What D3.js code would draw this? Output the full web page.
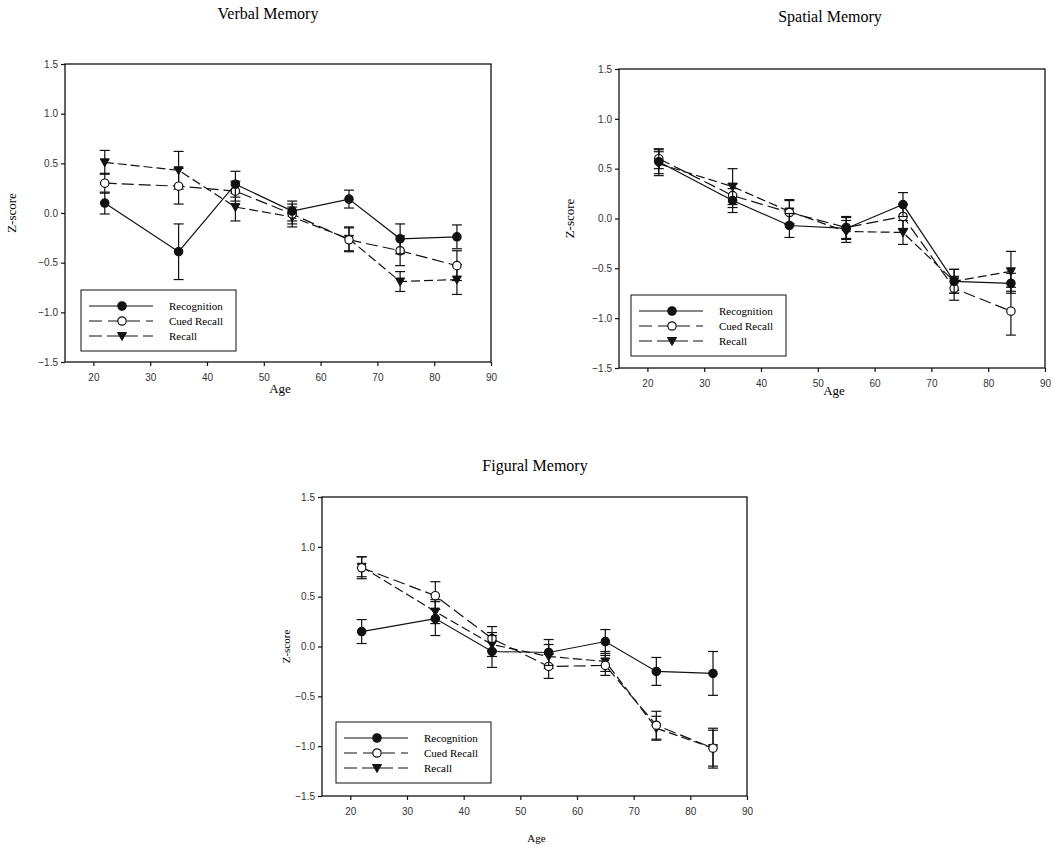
<!DOCTYPE html>
<html>
<head>
<meta charset="utf-8">
<script src="https://cdn.jsdelivr.net/npm/d3@7"></script>
<style>
	body { margin: 0; background: #fff; }
	svg { display: block; }
</style>
</head>
<body>
<div id="chart"></div>
<script>
// ages of the seven groups
var ages = [22, 35, 45, 55, 65, 74, 84];
var seriesNames = ["Recognition", "Cued Recall", "Recall"];
var yTicks = [-1.5, -1.0, -0.5, 0.0, 0.5, 1.0, 1.5];
var xTicks = [20, 30, 40, 50, 60, 70, 80, 90];

// Verbal memory
var verbalRecognition = [0.10, -0.39, 0.29, 0.02, 0.14, -0.26, -0.24];
var verbalRecognitionErr = [0.11, 0.28, 0.13, 0.10, 0.09, 0.15, 0.12];
var verbalCued = [0.30, 0.27, 0.22, -0.01, -0.27, -0.38, -0.53];
var verbalCuedErr = [0.10, 0.18, 0.10, 0.10, 0.12, 0.15, 0.15];
var verbalRecall = [0.51, 0.43, 0.06, -0.04, -0.26, -0.69, -0.67];
var verbalRecallErr = [0.12, 0.19, 0.14, 0.10, 0.12, 0.10, 0.15];

// Spatial memory
var spatialRecognition = [0.57, 0.18, -0.07, -0.10, 0.14, -0.63, -0.65];
var spatialRecognitionErr = [0.12, 0.12, 0.12, 0.11, 0.12, 0.12, 0.10];
var spatialCued = [0.60, 0.23, 0.06, -0.09, 0.02, -0.70, -0.93];
var spatialCuedErr = [0.10, 0.12, 0.12, 0.11, 0.12, 0.12, 0.24];
var spatialRecall = [0.55, 0.32, 0.07, -0.13, -0.14, -0.63, -0.53];
var spatialRecallErr = [0.12, 0.18, 0.12, 0.11, 0.12, 0.12, 0.20];

// Figural memory
var figuralRecognition = [0.15, 0.28, -0.05, -0.06, 0.05, -0.25, -0.27];
var figuralRecognitionErr = [0.12, 0.17, 0.16, 0.13, 0.12, 0.14, 0.22];
var figuralCued = [0.79, 0.51, 0.08, -0.20, -0.19, -0.79, -1.02];
var figuralCuedErr = [0.11, 0.14, 0.12, 0.12, 0.10, 0.14, 0.18];
var figuralRecall = [0.80, 0.35, 0.02, -0.10, -0.15, -0.82, -1.02];
var figuralRecallErr = [0.10, 0.12, 0.12, 0.12, 0.10, 0.12, 0.20];

var svg = d3.select("#chart")
	.append("svg")
	.attr("width", 1054)
	.attr("height", 847);

var dashes = ["none", "12,5", "9,4"];

function drawPanel(opt) {
	var values = opt.values, errs = opt.errs;
	var g = svg.append("g");

	var x = d3.scaleLinear().domain([15, 90]).range([opt.left, opt.right]);
	var y = d3.scaleLinear().domain([-1.5, 1.5]).range([opt.bottom, opt.top]);

	// title
	g.append("text")
		.attr("x", opt.titleX)
		.attr("y", opt.titleY)
		.attr("text-anchor", "middle")
		.style("font-family", "Liberation Serif, serif")
		.style("font-size", "16px")
		.text(opt.title);

	// frame
	g.append("rect")
		.attr("x", opt.left)
		.attr("y", opt.top)
		.attr("width", opt.right - opt.left)
		.attr("height", opt.bottom - opt.top)
		.attr("fill", "none")
		.attr("stroke", "#111")
		.attr("stroke-width", 1.3);

	var xAxis = g.append("g")
		.attr("transform", "translate(0," + opt.bottom + ")")
		.call(d3.axisBottom(x).tickValues(xTicks).tickSize(4).tickFormat(d3.format("d")));
	var yAxis = g.append("g")
		.attr("transform", "translate(" + opt.left + ",0)")
		.call(d3.axisLeft(y).tickValues(yTicks).tickSize(4).tickFormat(d3.format(".1f")));
	[xAxis, yAxis].forEach(function(a) {
		a.select(".domain").remove();
		a.selectAll("line").attr("stroke", "#111").attr("stroke-width", 1.2);
		a.selectAll("text")
			.style("font-family", "Liberation Sans, Arial, sans-serif")
			.style("font-size", opt.tickSize + "px")
			.attr("fill", "#333");
	});
	xAxis.selectAll("text").attr("dy", "1.2em");

	// axis labels
	g.append("text")
		.attr("x", (opt.left + opt.right) / 2 + 2)
		.attr("y", opt.ageY)
		.attr("text-anchor", "middle")
		.style("font-family", "Liberation Serif, serif")
		.style("font-size", opt.labelSize + "px")
		.text("Age");
	g.append("text")
		.attr("transform", "translate(" + opt.zX + "," + y(0) + ") rotate(-90)")
		.attr("text-anchor", "middle")
		.style("font-family", "Liberation Serif, serif")
		.style("font-size", opt.labelSize + "px")
		.text("Z-score");

	var line = d3.line()
		.x(function(d) { return x(d.age); })
		.y(function(d) { return y(d.v); });

	// series drawn back to front: Recall, Cued, Recognition
	[2, 1, 0].forEach(function(s) {
		var pts = ages.map(function(a, i) {
			return { age: a, v: values[s][i], e: errs[s][i] };
		});

		var eb = g.append("g").selectAll("g").data(pts).enter().append("g")
			.attr("stroke", "#111").attr("stroke-width", 1.2);
		eb.append("line")
			.attr("x1", function(d) { return x(d.age); })
			.attr("x2", function(d) { return x(d.age); })
			.attr("y1", function(d) { return y(d.v - d.e); })
			.attr("y2", function(d) { return y(d.v + d.e); });
		[-1, 1].forEach(function(sign) {
			eb.append("line")
				.attr("x1", function(d) { return x(d.age) - 5; })
				.attr("x2", function(d) { return x(d.age) + 5; })
				.attr("y1", function(d) { return y(d.v + sign * d.e); })
				.attr("y2", function(d) { return y(d.v + sign * d.e); });
		});

		g.append("path")
			.datum(pts)
			.attr("d", line)
			.attr("fill", "none")
			.attr("stroke", "#111")
			.attr("stroke-width", 1.2)
			.attr("stroke-dasharray", dashes[s]);

		g.append("g").selectAll("path").data(pts).enter().append("path")
			.attr("transform", function(d) { return "translate(" + x(d.age) + "," + y(d.v) + ")"; })
			.call(marker, s);
	});

	// legend
	var lg = g.append("g");
	lg.append("rect")
		.attr("x", opt.legX)
		.attr("y", opt.legY)
		.attr("width", 155)
		.attr("height", 61)
		.attr("fill", "#fff")
		.attr("stroke", "#111")
		.attr("stroke-width", 1);
	seriesNames.forEach(function(name, s) {
		var ly = opt.legY + 16 + s * 15;
		lg.append("line")
			.attr("x1", opt.legX + 8)
			.attr("x2", opt.legX + 72)
			.attr("y1", ly)
			.attr("y2", ly)
			.attr("stroke", "#111")
			.attr("stroke-width", 1.2)
			.attr("stroke-dasharray", s === 0 ? "none" : (s === 1 ? "13,6" : "13,5"));
		lg.append("path")
			.attr("transform", "translate(" + (opt.legX + 41) + "," + ly + ")")
			.call(marker, s);
		lg.append("text")
			.attr("x", opt.legX + 88)
			.attr("y", ly + 4)
			.style("font-family", "Liberation Serif, serif")
			.style("font-size", "11px")
			.text(name);
	});
}

function marker(sel, s) {
	if (s === 2) {
		sel.attr("d", "M-4.5,-3.5L4.5,-3.5L0,4.5Z").attr("fill", "#111").attr("stroke", "#111");
	} else {
		sel.attr("d", d3.symbol(d3.symbolCircle, 55)())
			.attr("fill", s === 0 ? "#111" : "#fff")
			.attr("stroke", "#111")
			.attr("stroke-width", 1.2);
	}
}

drawPanel({
	title: "Verbal Memory", titleX: 268, titleY: 19,
	left: 65, right: 491, top: 64, bottom: 362,
	tickSize: 10, labelSize: 13, ageY: 393, zX: 16,
	legX: 81, legY: 290,
	values: [verbalRecognition, verbalCued, verbalRecall],
	errs: [verbalRecognitionErr, verbalCuedErr, verbalRecallErr]
});

drawPanel({
	title: "Spatial Memory", titleX: 830, titleY: 22,
	left: 619, right: 1045, top: 69, bottom: 368,
	tickSize: 10, labelSize: 13, ageY: 395, zX: 574,
	legX: 631, legY: 295,
	values: [spatialRecognition, spatialCued, spatialRecall],
	errs: [spatialRecognitionErr, spatialCuedErr, spatialRecallErr]
});

drawPanel({
	title: "Figural Memory", titleX: 535, titleY: 471,
	left: 322, right: 747, top: 497, bottom: 796,
	tickSize: 10, labelSize: 11, ageY: 842, zX: 290,
	legX: 336, legY: 722,
	values: [figuralRecognition, figuralCued, figuralRecall],
	errs: [figuralRecognitionErr, figuralCuedErr, figuralRecallErr]
});
</script>
</body>
</html>
